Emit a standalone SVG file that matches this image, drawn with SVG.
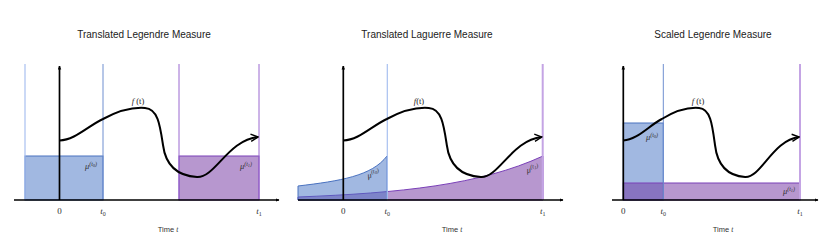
<svg xmlns="http://www.w3.org/2000/svg" width="830" height="249" viewBox="0 0 830 249">
<defs>
<marker id="ax" viewBox="0 0 8 8" refX="7" refY="4" markerWidth="4" markerHeight="4" orient="auto" markerUnits="userSpaceOnUse">
<path d="M0,0.5 L8,4 L0,7.5 Z" fill="#000"/>
</marker>
<marker id="open" viewBox="0 0 10 10" refX="9" refY="5" markerWidth="9" markerHeight="9" orient="auto" markerUnits="userSpaceOnUse">
<path d="M1,1 L9,5 L1,9" fill="none" stroke="#000" stroke-width="1.6"/>
</marker>
</defs>
<style>
.title{font-family:"Liberation Sans","Open Sans",sans-serif;font-size:10px;fill:#222;text-anchor:middle}
.tick{font-family:"Liberation Serif","DejaVu Serif",serif;font-size:9px;fill:#333;text-anchor:middle}
.it{font-style:italic}
.lab{font-family:"Liberation Serif","DejaVu Serif",serif;font-size:8.5px;fill:#222;text-anchor:middle}
.mu{font-family:"Liberation Serif","DejaVu Serif",serif;font-size:8.5px;font-style:italic;fill:#333;text-anchor:middle}
.time{font-family:"Liberation Sans","Open Sans",sans-serif;font-size:7.5px;fill:#333;text-anchor:middle}
.axis{stroke:#000;stroke-width:1.7;fill:none}
.curve{stroke:#000;stroke-width:2;fill:none;marker-end:url(#open)}
.blue{fill:#4472c4;fill-opacity:0.5;stroke:#4a72c0;stroke-width:1}
.purple{fill:#7030a0;fill-opacity:0.5;stroke:#7a40b8;stroke-width:1}
.vb{stroke:#6f8fd0;stroke-width:1}
.vbl{stroke:#a8c0f0;stroke-width:1.2}
.vp{stroke:#9a68d0;stroke-width:1}
.vpl{stroke:#c4a4e4;stroke-width:2}
</style>

<g id="panel-legendre">
<text class="title" x="144" y="38">Translated Legendre Measure</text>
<rect class="blue" x="25" y="156" width="78" height="44"/>
<rect class="purple" x="179" y="156" width="80" height="44"/>
<line class="vbl" x1="25" y1="64" x2="25" y2="200"/>
<line class="vb" x1="103" y1="64" x2="103" y2="200"/>
<line class="vp" x1="179" y1="64" x2="179" y2="200"/>
<line class="vp" x1="259" y1="64" x2="259" y2="200"/>
<text class="lab" x="138" y="104"><tspan font-style="italic">f</tspan> (t)</text>
<text class="mu" x="91" y="169">μ<tspan font-size="6px" dy="-3.5">(t</tspan><tspan font-size="4.5px" dy="1">0</tspan><tspan font-size="6px" dy="-1">)</tspan></text>
<text class="mu" x="246" y="169">μ<tspan font-size="6px" dy="-3.5">(t</tspan><tspan font-size="4.5px" dy="1">1</tspan><tspan font-size="6px" dy="-1">)</tspan></text>
<text class="tick" x="59.5" y="214">0</text>
<text class="tick" x="103" y="214"><tspan class="it">t</tspan><tspan font-size="6px" dy="1.5">0</tspan></text>
<text class="tick" x="259" y="214"><tspan class="it">t</tspan><tspan font-size="6px" dy="1.5">1</tspan></text>
<text class="time" x="168" y="232">Time <tspan font-family="Liberation Serif,serif" font-style="italic">t</tspan></text>
</g>

<g id="panel-laguerre">
<text class="title" x="427" y="38">Translated Laguerre Measure</text>
<path class="purple" d="M298,200 L298,197 C400,193 480,185 543,156 L543,200 Z"/>
<path class="blue" d="M298,200 L298,186 C340,181 372,176 387,156 L387,200 Z"/>
<line class="vbl" x1="387.3" y1="64" x2="387.3" y2="200"/>
<line class="vpl" x1="542.7" y1="64" x2="542.7" y2="200"/>
<text class="lab" x="419" y="104"><tspan font-style="italic">f</tspan>(t)</text>
<text class="mu" x="0" y="0" transform="translate(374,177) rotate(-14)">μ<tspan font-size="6px" dy="-3.5">(t</tspan><tspan font-size="4.5px" dy="1">0</tspan><tspan font-size="6px" dy="-1">)</tspan></text>
<text class="mu" x="0" y="0" transform="translate(533,172) rotate(-10)">μ<tspan font-size="6px" dy="-3.5">(t</tspan><tspan font-size="4.5px" dy="1">1</tspan><tspan font-size="6px" dy="-1">)</tspan></text>
<text class="tick" x="343.3" y="214">0</text>
<text class="tick" x="387.3" y="214"><tspan class="it">t</tspan><tspan font-size="6px" dy="1.5">0</tspan></text>
<text class="tick" x="542.7" y="214"><tspan class="it">t</tspan><tspan font-size="6px" dy="1.5">1</tspan></text>
<text class="time" x="452" y="232">Time <tspan font-family="Liberation Serif,serif" font-style="italic">t</tspan></text>
</g>

<g id="panel-scaled">
<text class="title" x="713" y="38">Scaled Legendre Measure</text>
<rect class="blue" x="623.3" y="123" width="40" height="77"/>
<rect class="purple" x="623.3" y="183" width="176.7" height="17"/>
<line class="vb" x1="663.3" y1="64" x2="663.3" y2="200"/>
<line class="vpl" x1="800" y1="64" x2="800" y2="200"/>
<text class="lab" x="698" y="104"><tspan font-style="italic">f</tspan> (t)</text>
<text class="mu" x="652" y="140">μ<tspan font-size="6px" dy="-3.5">(t</tspan><tspan font-size="4.5px" dy="1">0</tspan><tspan font-size="6px" dy="-1">)</tspan></text>
<text class="mu" x="789" y="194">μ<tspan font-size="6px" dy="-3.5">(t</tspan><tspan font-size="4.5px" dy="1">1</tspan><tspan font-size="6px" dy="-1">)</tspan></text>
<text class="tick" x="623.3" y="214">0</text>
<text class="tick" x="663.3" y="214"><tspan class="it">t</tspan><tspan font-size="6px" dy="1.5">0</tspan></text>
<text class="tick" x="800" y="214"><tspan class="it">t</tspan><tspan font-size="6px" dy="1.5">1</tspan></text>
<text class="time" x="723" y="232">Time <tspan font-family="Liberation Serif,serif" font-style="italic">t</tspan></text>
</g>

<g id="connectors">
<line class="axis" x1="14" y1="200" x2="279" y2="200" marker-end="url(#ax)"/>
<line class="axis" x1="59.5" y1="200" x2="59.5" y2="66" marker-end="url(#ax)"/>
<path class="curve" d="M59.5,140.5 C75,140 88,126 103,119 C118,111 132,107 145,108 C158,109 160,125 163,145 C166,168 180,176 197,177 C215,178 228,140 258,137"/>
<line class="axis" x1="298" y1="200" x2="563" y2="200" marker-end="url(#ax)"/>
<line class="axis" x1="343.3" y1="200" x2="343.3" y2="66" marker-end="url(#ax)"/>
<path class="curve" d="M343.3,140.5 C358.8,140 371.8,126 386.8,119 C401.8,111 415.8,107 428.8,108 C441.8,109 443.8,125 446.8,145 C449.8,168 463.8,176 480.8,177 C498.8,178 511.8,140 541.8,137"/>
<line class="axis" x1="612" y1="200" x2="818" y2="200" marker-end="url(#ax)"/>
<line class="axis" x1="623.3" y1="200" x2="623.3" y2="66" marker-end="url(#ax)"/>
<path class="curve" d="M623.3,140.5 C637,140 648.5,126 661.8,119 C675.1,111 687.5,107 699.1,108 C710.6,109 712.3,125 715,145 C717.7,168 730.1,176 745.1,177 C761,178 772.7,140 799.2,137"/>
</g>
</svg>
